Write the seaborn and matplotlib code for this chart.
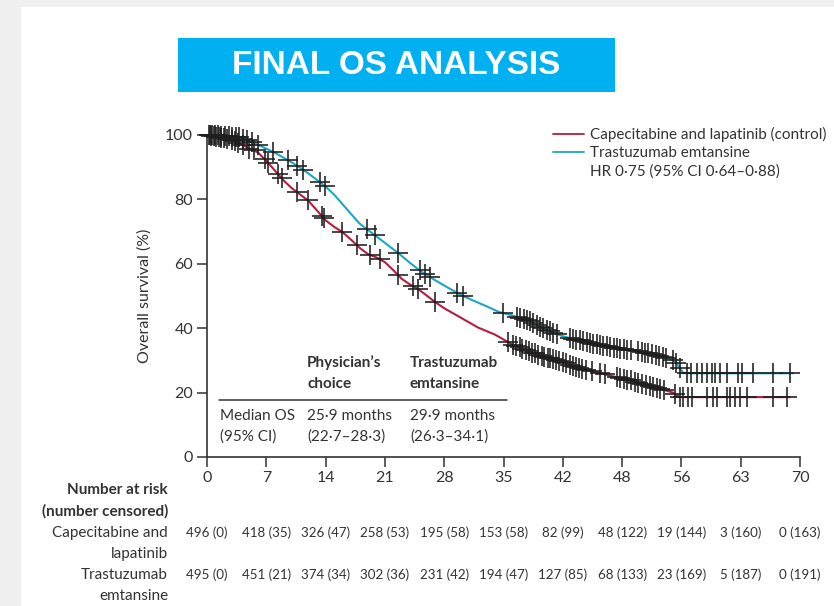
import numpy as np
import pandas as pd
import matplotlib
matplotlib.use("Agg")
import matplotlib.pyplot as plt
import seaborn as sns
from matplotlib.patches import Rectangle
from matplotlib.lines import Line2D
from matplotlib.transforms import blended_transform_factory

# ---------------- data ----------------
arm_names = ["Capecitabine and lapatinib (control)", "Trastuzumab emtansine"]

cap_time = [0, 1, 2, 3, 4, 5, 6, 7, 8, 9, 10, 11, 12, 13, 14, 15, 16, 17, 18, 19, 20,
            21, 22, 23, 24, 25, 26, 27, 28, 30, 32, 34, 35, 36, 38, 40, 42, 44, 46, 48,
            50, 52, 54, 55, 55.8, 68.8]
cap_surv = [100, 99.5, 99, 98.4, 97.2, 95.8, 94.6, 92, 89, 86, 83.5, 81.5, 79.5, 76.5,
            73.5, 71.5, 69.8, 67.5, 65, 63, 62, 60.5, 58, 55.3, 53.5, 52, 50, 48, 46.2,
            43.2, 40.2, 38, 36.5, 35, 32.8, 31, 29.5, 27.5, 26.3, 25, 23.8, 22.3, 20.8,
            20, 18.6, 18.6]

tdm_time = [0, 2, 4, 5, 6, 8, 10, 11, 12, 13, 14, 15, 16.5, 18, 19.5, 21, 22.5, 24, 25.5,
            27, 28.5, 30, 31.5, 33, 34.5, 36, 38, 40, 42, 44, 46, 48, 50, 52, 54, 55.3,
            55.8, 56.3, 69.2]
tdm_surv = [100, 99.8, 99.2, 98, 97, 94.5, 91.5, 89.8, 88, 86, 84, 81.5, 77, 72.5, 69.5,
            66.5, 63.5, 60.2, 57.2, 54.8, 52.5, 50.3, 48.5, 46.8, 45, 44, 42.3, 39.5,
            37.5, 36.2, 35, 34, 33.2, 32.3, 31, 29.8, 27.5, 26, 26]

cap_censor = [0.3, 0.5, 0.8, 1.1, 1.4, 1.7, 2.0, 2.4, 2.9, 3.3, 3.7, 4.2, 5.0, 5.5, 6.8,
              7.2, 8.4, 8.8, 10.6, 11.9, 13.6, 13.8, 15.9, 17.7, 19.2, 20.4, 22.5, 24.3,
              24.9, 26.9, 35.5, 36.1, 36.5, 36.9, 37.2, 37.6, 38.0, 38.4, 38.7, 39.1,
              39.5, 39.8, 40.2, 40.5, 40.9, 41.2, 41.6, 42.0, 42.4, 42.8, 43.2, 43.5,
              43.9, 44.3, 44.7, 45.4, 46.4, 47.0, 48.4, 48.8, 49.2, 49.6, 50.0, 50.5,
              50.9, 51.4, 51.8, 52.3, 52.7, 53.1, 53.5, 54.0, 55.2, 55.8, 56.2, 56.8,
              57.3, 59.0, 59.7, 60.2, 61.4, 61.7, 62.3, 62.9, 63.7, 66.8, 68.5]
tdm_censor = [0.2, 0.6, 1.0, 1.3, 1.6, 2.1, 2.6, 3.0, 3.4, 3.8, 4.3, 4.7, 5.3, 6.0, 7.8,
              9.6, 10.6, 11.3, 13.3, 13.9, 18.9, 19.8, 22.5, 25.1, 25.7, 26.3, 29.5, 30.2,
              34.9, 36.6, 37.0, 37.4, 37.8, 38.1, 38.5, 38.9, 39.3, 39.7, 40.1, 40.5,
              40.9, 41.3, 42.8, 43.2, 43.6, 44.0, 44.4, 44.8, 45.2, 45.6, 46.0, 46.4,
              46.8, 47.2, 47.6, 48.0, 48.4, 48.8, 49.2, 49.6, 50.0, 50.9, 51.3, 51.7,
              52.1, 52.5, 53.0, 53.4, 53.8, 54.2, 55.0, 55.4, 55.8, 56.7, 57.1, 57.8,
              58.4, 59.0, 59.6, 60.0, 60.6, 61.4, 62.7, 63.1, 64.5, 66.8, 68.8]

x_ticks = [0, 7, 14, 21, 28, 35, 42, 49, 56, 63, 70]
x_tick_labels = ["0", "7", "14", "21", "28", "35", "42", "48", "56", "63", "70"]
y_ticks = [0, 20, 40, 60, 80, 100]

risk_cap = ["496 (0)", "418 (35)", "326 (47)", "258 (53)", "195 (58)", "153 (58)",
            "82 (99)", "48 (122)", "19 (144)", "3 (160)", "0 (163)"]
risk_tdm = ["495 (0)", "451 (21)", "374 (34)", "302 (36)", "231 (42)", "194 (47)",
            "127 (85)", "68 (133)", "23 (169)", "5 (187)", "0 (191)"]

# ---------------- style ----------------
sns.set_style("ticks")
plt.rcParams["font.family"] = ["Lato", "DejaVu Sans"]
TXT = "#333333"
RED = "#B81D40"
CYAN = "#1BA8C5"

W, H = 834, 606
fig = plt.figure(figsize=(W / 100, H / 100), dpi=100, facecolor="#f0f0f0")


def fx(x):
    return x / W


def fy(y):
    return 1 - y / H


fig.patches.append(Rectangle((fx(21), 0), 1 - fx(21), fy(7), transform=fig.transFigure,
                             facecolor="white", edgecolor="none", zorder=-10))

# title banner
fig.patches.append(Rectangle((fx(178), fy(92)), fx(615) - fx(178), fy(38) - fy(92),
                             transform=fig.transFigure, facecolor="#00B0F0",
                             edgecolor="none"))
fig.text(fx(396), fy(66), "FINAL OS ANALYSIS", ha="center", va="center",
         color="white", fontsize=24, fontweight="bold",
         family=["Liberation Sans", "DejaVu Sans"])

ax = fig.add_axes([fx(207), fy(457), fx(800) - fx(207), fy(135) - fy(457)])
ax.set_facecolor("none")

df = pd.concat([
    pd.DataFrame({"time": cap_time, "surv": cap_surv, "arm": arm_names[0]}),
    pd.DataFrame({"time": tdm_time, "surv": tdm_surv, "arm": arm_names[1]}),
])
sns.lineplot(data=df, x="time", y="surv", hue="arm",
             palette={arm_names[0]: RED, arm_names[1]: CYAN},
             estimator=None, sort=False, legend=False, linewidth=1.5, ax=ax)

for ct, tt, ss in [(cap_censor, cap_time, cap_surv), (tdm_censor, tdm_time, tdm_surv)]:
    cy = np.interp(ct, tt, ss)
    ax.plot(ct, cy, linestyle="none", marker="+", markersize=14,
            markeredgewidth=1.15, color="#1e1e1e", clip_on=False, zorder=3)

ax.set_xlim(0, 70)
ax.set_ylim(0, 100)
ax.set_xticks(x_ticks)
ax.set_xticklabels(x_tick_labels)
ax.set_yticks(y_ticks)
ax.tick_params(axis="both", length=7, width=1.1, color=TXT, labelcolor=TXT,
               labelsize=11.5, pad=3)
ax.set_xlabel("")
ax.set_ylabel("Overall survival (%)", fontsize=11.5, color=TXT, labelpad=10)
sns.despine(ax=ax)
for s in ["left", "bottom"]:
    ax.spines[s].set_color(TXT)
    ax.spines[s].set_linewidth(1.2)

# legend
handles = [Line2D([], [], color=RED, lw=1.3), Line2D([], [], color=CYAN, lw=1.3),
           Line2D([], [], color="none")]
labels = [arm_names[0], arm_names[1], "HR 0\u00b775 (95% CI 0\u00b764\u20130\u00b788)"]
fig.legend(handles, labels, loc="upper left", bbox_to_anchor=(fx(553), fy(127)),
           frameon=False, fontsize=11, handlelength=2.0, handletextpad=0.45,
           borderpad=0, borderaxespad=0, labelspacing=0.28, labelcolor=TXT)

# inset median table
fig.add_artist(Line2D([fx(219), fx(507)], [fy(400), fy(400)], transform=fig.transFigure,
                      color=TXT, lw=1.1))
for (x, y, s, w) in [(307, 363, "Physician\u2019s", "bold"), (307, 384, "choice", "bold"),
                     (410, 363, "Trastuzumab", "bold"), (410, 384, "emtansine", "bold"),
                     (220, 416, "Median OS", "normal"), (220, 437, "(95% CI)", "normal"),
                     (307, 416, "25\u00b79 months", "normal"),
                     (307, 437, "(22\u00b77\u201328\u00b73)", "normal"),
                     (410, 416, "29\u00b79 months", "normal"),
                     (410, 437, "(26\u00b73\u201334\u00b71)", "normal")]:
    fig.text(fx(x), fy(y), s, ha="left", va="center", fontsize=11, color=TXT,
             fontweight=w)

# risk table
for (y, s, w) in [(490, "Number at risk", "bold"), (511, "(number censored)", "bold"),
                  (533, "Capecitabine and", "normal"), (554, "lapatinib", "normal"),
                  (575, "Trastuzumab", "normal"), (596, "emtansine", "normal")]:
    fig.text(fx(168), fy(y), s, ha="right", va="center", fontsize=11, color=TXT,
             fontweight=w)

trans = blended_transform_factory(ax.transData, fig.transFigure)
for xt, a, b in zip(x_ticks, risk_cap, risk_tdm):
    ax.text(xt, fy(533), a, transform=trans, ha="center", va="center", fontsize=9.6,
            color=TXT, clip_on=False)
    ax.text(xt, fy(575), b, transform=trans, ha="center", va="center", fontsize=9.6,
            color=TXT, clip_on=False)

fig.savefig("out.png", dpi=100, facecolor=fig.get_facecolor())
